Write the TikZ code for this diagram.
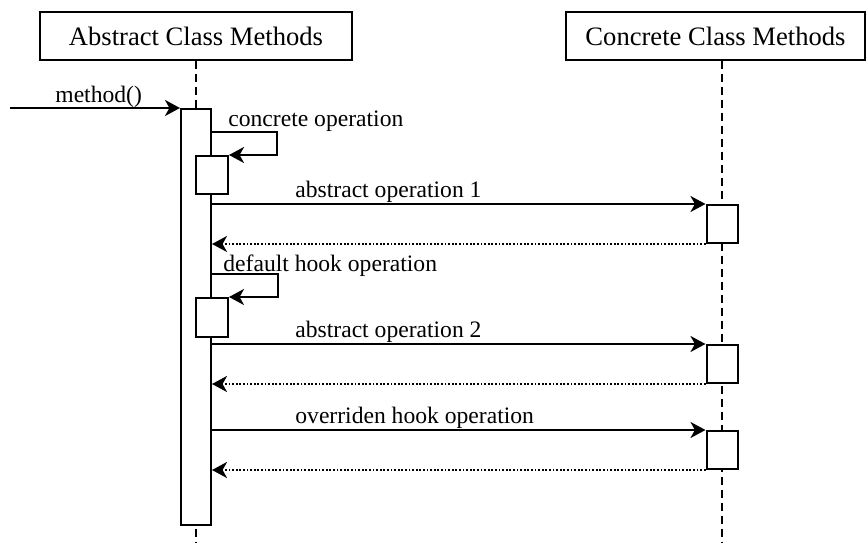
\documentclass[tikz,border=0pt]{standalone}
\usepackage{fontspec}
\setmainfont{Liberation Serif}
\usepackage{tikz}
\usetikzlibrary{arrows.meta, positioning, calc}
\tikzstyle{header} = [rectangle, draw, line width=0.6pt, minimum height=24pt, font=\fontsize{13.3}{16}\selectfont]
\tikzstyle{activation} = [rectangle, draw, fill=white, line width=1pt, minimum width=15pt, inner sep=0pt, anchor=north]
\tikzstyle{lifeline} = [line width=1pt, dash pattern=on 4pt off 2.5pt]
\tikzstyle{call} = [line width=1pt, -{Stealth[length=7.5pt, width=8pt, inset=2.2pt]}]
\tikzstyle{reply} = [line width=1pt, dash pattern=on 0.9pt off 0.9pt, -{Stealth[length=7.5pt, width=8pt, inset=2.2pt]}]
\tikzstyle{msglabel} = [anchor=base west, inner sep=0pt, font=\fontsize{11.8}{14}\selectfont]

\begin{document}
\begin{tikzpicture}[x=0.5pt, y=-0.5pt]
    \useasboundingbox (0,0) rectangle (866,549);

    % Class heads
    \node[header, minimum width=156pt] (abs) at (196,36) {Abstract Class Methods};
    \node[header, minimum width=149.5pt] (con) at (715.5,36) {Concrete Class Methods};

    % Lifelines
    \coordinate (absend) at (196,543);
    \coordinate (conend) at (722,543);
    \draw[lifeline] (abs.south) -- (absend);
    \draw[lifeline] (con.south -| conend) -- (conend);

    % Activations
    \node[activation, minimum height=208pt] (a0) at (196,108) {};
    \node[activation, minimum width=16pt, minimum height=19pt] (s1) at (212,155) {};
    \node[activation, minimum width=16pt, minimum height=19.5pt] (s2) at (212,297) {};
    \node[activation, minimum width=15.5pt, minimum height=19pt] (r1) at (722,204) {};
    \node[activation, minimum width=15.5pt, minimum height=19pt] (r2) at (722,344) {};
    \node[activation, minimum width=15.5pt, minimum height=19pt] (r3) at (722,430) {};

    % Entry call
    \coordinate (caller) at (10,108);
    \draw[call] (caller) -- (a0.north west);
    \node[msglabel] (m0) at (55,103) {method()};

    % Self calls
    \draw[call] ($(a0.north east)+(0,24)$) -| ($(s1.north east)+(48,0)$) -- (s1.north east);
    \node[msglabel] (m1) at (228,127) {concrete operation};
    \draw[call] ($(a0.east |- s2.north)+(0,-23)$) -| ($(s2.north east)+(49,0)$) -- (s2.north east);
    \node[msglabel] (m3) at (223,272) {default hook operation};

    % Calls to the concrete class and replies
    \draw[call] (a0.east |- r1.north) -- (r1.north west);
    \draw[reply] (r1.south west) -- (a0.east |- r1.south);
    \node[msglabel] (m2) at (295,198) {abstract operation 1};

    \draw[call] (a0.east |- r2.north) -- (r2.north west);
    \draw[reply] (r2.south west) -- (a0.east |- r2.south);
    \node[msglabel] (m4) at (295,338) {abstract operation 2};

    \draw[call] (a0.east |- r3.north) -- (r3.north west);
    \draw[reply] (r3.south west) -- (a0.east |- r3.south);
    \node[msglabel] (m5) at (295,423) {overriden hook operation};
\end{tikzpicture}
\end{document}
